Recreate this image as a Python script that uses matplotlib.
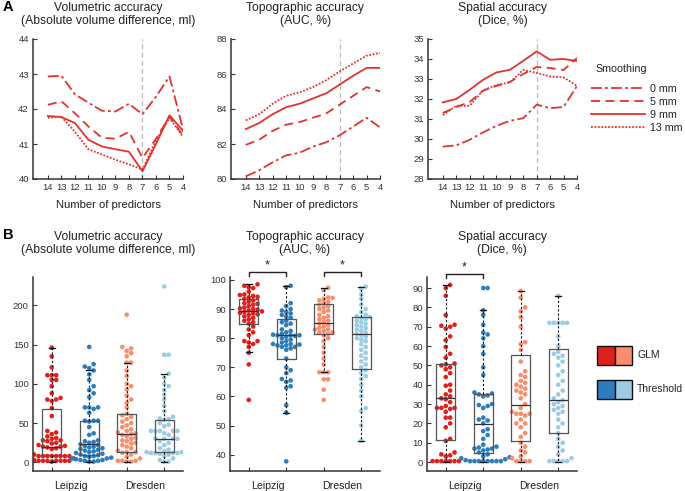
import numpy as np
import matplotlib
matplotlib.use("Agg")
import matplotlib.pyplot as plt
from matplotlib.patches import Rectangle

plt.rcParams['font.family'] = ['Liberation Sans', 'DejaVu Sans']

# ---------------- data: panel A ----------------
n_pred = [14, 13, 12, 11, 10, 9, 8, 7, 6, 5, 4]
smooth_labels = ["0 mm", "5 mm", "9 mm", "13 mm"]

vol_lines = [
    [42.93, 42.95, 42.42, 42.18, 41.95, 41.93, 42.15, 41.85, 42.35, 42.93, 41.42],
    [42.12, 42.22, 41.88, 41.5, 41.18, 41.15, 41.35, 40.6, 41.15, 41.78, 41.25],
    [41.8, 41.77, 41.6, 41.12, 40.93, 40.85, 40.78, 40.22, 41.0, 41.82, 41.38],
    [41.75, 41.78, 41.35, 40.85, 40.7, 40.55, 40.42, 40.27, 41.1, 41.75, 41.2],
]
topo_lines = [
    [80.15, 80.5, 80.95, 81.35, 81.5, 81.85, 82.1, 82.5, 83.0, 83.5, 82.95],
    [81.95, 82.25, 82.75, 83.1, 83.25, 83.5, 83.75, 84.25, 84.75, 85.25, 85.0],
    [82.85, 83.2, 83.7, 84.1, 84.3, 84.6, 84.9, 85.4, 85.9, 86.35, 86.35],
    [83.35, 83.7, 84.3, 84.75, 84.95, 85.25, 85.65, 86.15, 86.6, 87.05, 87.2],
]
spat_lines = [
    [29.62, 29.68, 29.96, 30.33, 30.66, 30.91, 31.04, 31.72, 31.54, 31.6, 32.65],
    [31.3, 31.6, 31.85, 32.42, 32.65, 32.85, 33.25, 33.6, 33.55, 33.45, 34.05],
    [31.83, 32.0, 32.46, 32.96, 33.33, 33.46, 33.91, 34.38, 33.96, 34.0, 33.9],
    [31.2, 31.66, 31.66, 32.43, 32.7, 32.83, 33.46, 33.3, 33.13, 33.08, 32.66],
]

# ---------------- data: panel B ----------------
groups = ["Leipzig", "Dresden"]
methods = ["GLM", "Threshold"]

vol_pts = [
    [146, 135, 121, 111, 111, 111, 105, 105, 97, 88, 82, 80, 80, 78, 69, 59, 40, 38, 36, 33,
     31, 30, 28, 28, 27, 25, 24, 22, 21, 20, 20, 19, 18, 17, 10, 8, 8, 8, 8, 8, 8, 8, 8, 8,
     5, 3, 2, 2, 2, 2, 2, 2, 2, 1],
    [147, 125, 122, 120, 117, 112, 105, 97, 92, 88, 83, 70, 70, 70, 68, 63, 53, 53, 53, 52,
     45, 37, 35, 28, 27, 26, 25, 23, 22, 21, 20, 19, 18, 17, 16, 15, 14, 13, 12, 11, 10, 9,
     8, 8, 7, 6, 5, 5, 4, 3, 3, 2, 2, 1, 1],
    [188, 147, 145, 142, 139, 135, 127, 127, 117, 110, 100, 97, 93, 85, 80, 76, 70, 62, 60,
     58, 55, 52, 50, 47, 45, 42, 40, 38, 37, 36, 35, 33, 31, 30, 28, 27, 25, 24, 22, 20, 18,
     15, 13, 13, 12, 10, 7, 5, 2, 2, 2, 1, 1],
    [224, 137, 137, 113, 108, 100, 97, 92, 86, 80, 72, 65, 58, 56, 55, 54, 50, 48, 46, 40,
     40, 40, 40, 40, 37, 35, 30, 30, 30, 30, 27, 25, 22, 18, 16, 15, 14, 13, 13, 12, 12, 12,
     12, 11, 10, 8, 5, 3, 1, 1],
]
topo_pts = [
    [98.5, 98, 97.5, 97.2, 96, 95, 94.8, 94.5, 94.2, 94, 93.5, 93, 92.5, 92, 91.8, 91.5, 91,
     90.5, 90.2, 90, 89.8, 89.5, 89.2, 89, 88.7, 88.5, 88.2, 88, 87.5, 87, 86.5, 86, 85.5,
     85, 84, 83, 82, 81, 79, 79, 78.5, 78, 77, 75, 71, 58.8],
    [98, 97.5, 92, 91, 90, 89.5, 89, 88.5, 88, 87.5, 87, 86, 85.5, 85, 84.5, 83, 82.5, 82,
     81.5, 81.2, 81, 81, 81, 80.8, 80.5, 80, 79.5, 79, 78.5, 78, 78, 77.8, 77.5, 77.5, 77,
     77, 76.5, 76, 73, 70, 69, 68, 66, 65.5, 65, 63.5, 63, 57, 54.4, 37.7],
    [97.3, 96.5, 94, 93.8, 93.5, 93, 92.5, 92, 91.5, 91, 90.5, 90, 89.5, 89, 88, 87.5, 87,
     86.5, 86, 85.5, 85, 84.5, 84, 83.5, 83, 83, 82.5, 82, 82, 81.5, 81, 80, 79, 77, 75, 73,
     71, 68.3, 68.3, 68.3, 65.9, 65.9, 62.3, 58.8],
    [97.7, 97, 95, 93.5, 91.5, 90, 89, 88, 87.5, 87.2, 87, 86.5, 86, 85.5, 85, 84.5, 84,
     83.5, 83, 82.5, 82, 81.5, 81, 80.5, 80, 79.5, 79, 78, 77, 76, 75, 74, 73, 72, 71, 70,
     69, 68, 67, 66, 64, 62, 60, 56, 55, 50, 44.8],
]
spat_pts = [
    [91.6, 90, 86, 76, 71, 70.5, 70, 69, 65, 63, 59.5, 56, 54, 51, 50.5, 50, 49, 48, 46, 44,
     40, 39.5, 37, 35, 34, 33, 32.5, 31, 29, 28, 28, 28, 27.5, 26, 23, 23, 20, 18, 12, 11, 5,
     4, 3.5, 3, 0.5, 0.5, 0.5, 0.5, 0.5, 0.5, 0.5],
    [90, 90, 78.5, 76, 71, 67, 66, 64, 60, 56, 49, 45, 36, 35.5, 35, 34.5, 34, 30, 29.5, 29,
     28, 23, 22, 21.5, 20, 17, 16, 14, 12, 9, 8, 7.5, 7, 7, 6.5, 6, 5, 4, 3, 2.5, 2, 1.5, 1,
     0.5, 0.5, 0.5, 0.5, 0.5, 0.5, 0.5, 0.5],
    [88.4, 85, 80, 78, 75, 70, 62, 61, 58, 52, 47, 45, 44, 42, 41, 40, 39, 38, 37, 36, 35,
     33, 30, 28, 26, 25, 25, 25, 24, 22, 20, 20, 18, 15, 13, 10, 8, 6, 5, 3, 2, 0.5, 0.5,
     0.5, 0.5],
    [86, 72, 72, 72, 72, 72, 65, 60, 57, 56, 55, 54, 52, 50, 47, 45, 42, 40, 37, 35, 33, 32,
     31, 30, 29, 28, 27, 26, 25, 22, 20, 18, 15, 12, 10, 8, 6, 4, 2, 0.5, 0.5, 0.5, 0.5,
     0.5],
]

# box stats: q1, median, q3, lower whisker, upper whisker
vol_box = [(9, 20, 68, 0, 145.5), (10, 24, 53, 0, 117), (13, 36, 62, 0, 127), (13, 30, 54.5, 0, 113)]
topo_box = [(85.0, 89.3, 93.4, 75.1, 98.5), (72.9, 81.0, 86.6, 54.4, 97.9),
            (81.5, 85.1, 91.6, 68.3, 97.3), (69.4, 81.5, 87.2, 44.8, 97.7)]
spat_box = [(11.4, 32.9, 50.5, 0, 91.6), (4.8, 19.7, 35.3, 0, 78.5),
            (10.7, 29.4, 55.4, 0, 88.4), (15.2, 32.3, 58.4, 0, 86)]

line_red = "#e5322d"
pt_colors = ["#e0201c", "#2b7dbf", "#fc8d6c", "#9ccbe3"]
ax_col = "#333333"
txt_col = "#222222"

fig = plt.figure(figsize=(6.85, 4.91), dpi=100)
W, H = 685.0, 491.0


def add_ax(l, t, r, b):
    return fig.add_axes([l / W, 1 - b / H, (r - l) / W, (b - t) / H])


def style(ax):
    for s in ["top", "right"]:
        ax.spines[s].set_visible(False)
    for s in ["left", "bottom"]:
        ax.spines[s].set_color(ax_col)
        ax.spines[s].set_linewidth(1.1)
    ax.tick_params(direction="in", length=3, width=0.8, colors=ax_col, labelsize=6.8,
                   labelcolor="#333333", pad=3)


# ---------------- panel A ----------------
styles = [(0, (6, 1.8, 1.5, 1.8)), (0, (5, 3)), "-", (0, (1, 0.9))]
top_specs = [
    (33, 183, vol_lines, (40, 44), 1, "Volumetric accuracy\n(Absolute volume difference, ml)"),
    (231, 380, topo_lines, (80, 88), 2, "Topographic accuracy\n(AUC, %)"),
    (428, 577, spat_lines, (28, 35), 1, "Spatial accuracy\n(Dice, %)"),
]
for l, r, lines, ylim, ystep, title in top_specs:
    ax = add_ax(l, 39, r, 179)
    style(ax)
    ax.axvline(7, color="#bbbbbb", lw=0.9, ls=(0, (4, 2.5)), zorder=1)
    for vals, ls, lab in zip(lines, styles, smooth_labels):
        ax.plot(n_pred, vals, color=line_red, lw=1.3, ls=ls, label=lab, zorder=3)
    ax.set_xlim(15.1, 4)
    ax.set_ylim(*ylim)
    ax.set_xticks(n_pred)
    ax.set_yticks(np.arange(ylim[0], ylim[1] + 0.5, ystep))
    ax.set_xlabel("Number of predictors", fontsize=8.1, color=txt_col, labelpad=6)
    ax.set_title(title, fontsize=8.7, color=txt_col, pad=10.5)
    last_top = ax

fig.text(595 / W, 1 - 69 / H, "Smoothing", fontsize=7.7, va="center", color=txt_col)
leg = last_top.legend(loc="upper left", bbox_to_anchor=(1.06, 0.716), frameon=False,
                      fontsize=7.7, handlelength=5.0, handletextpad=0.5, labelspacing=0.28,
                      borderpad=0)
for t in leg.get_texts():
    t.set_color(txt_col)


# ---------------- panel B ----------------
def swarm_offsets(vals, ppy, ppx, d=4.4):
    placed = []
    offs = np.zeros(len(vals))
    cands = [0.0]
    for j in range(1, 20):
        cands += [j * d, -j * d]
    for i in np.argsort(vals):
        y = vals[i] * ppy
        for c in cands:
            if all((c - px) ** 2 + (y - py) ** 2 >= (d * 0.9) ** 2 for px, py in placed):
                break
        placed.append((c, y))
        offs[i] = c / ppx
    return offs


bot_specs = [
    (33, 183, vol_pts, vol_box, (-11, 236), [0, 50, 100, 150, 200],
     "Volumetric accuracy\n(Absolute volume difference, ml)", [], None),
    (230, 380, topo_pts, topo_box, (34.4, 101), [40, 50, 60, 70, 80, 90, 100],
     "Topographic accuracy\n(AUC, %)", [(1, 2), (3, 4)], 102.6),
    (427, 577, spat_pts, spat_box, (-4.6, 95.7), list(range(0, 91, 10)),
     "Spatial accuracy\n(Dice, %)", [(1, 2)], 97.4),
]
positions = [1, 2, 3, 4]
for l, r, pts, boxes, ylim, yt, title, sig, sig_y in bot_specs:
    ax = add_ax(l, 277, r, 471)
    style(ax)
    ax.set_xlim(0.5, 4.5)
    ax.set_ylim(*ylim)
    ppy = 194.0 / (ylim[1] - ylim[0])
    ppx = 150.0 / 4.0
    for pos, vals, col in zip(positions, pts, pt_colors):
        vals = np.array(vals, dtype=float)
        xo = swarm_offsets(vals, ppy, ppx)
        ax.scatter(pos + xo, vals, s=11, color=col, edgecolors="none", zorder=2)
    stats = [dict(q1=q1, med=med, q3=q3, whislo=lo, whishi=hi, fliers=[])
             for q1, med, q3, lo, hi in boxes]
    ax.bxp(stats, positions=positions, widths=0.5, showfliers=False, capwidths=0.17,
           boxprops=dict(color="#555555", lw=0.9),
           medianprops=dict(color="#333333", lw=0.9),
           whiskerprops=dict(color="#111111", lw=0.8, ls=(0, (2, 1.8))),
           capprops=dict(color="#111111", lw=0.9), zorder=3)
    ax.set_xlim(0.5, 4.5)
    ax.set_xticks(positions)
    ax.set_xticklabels([])
    ax.set_xticks([1.5, 3.5], minor=True)
    ax.set_xticklabels(groups, minor=True, fontsize=7.6, color=txt_col)
    ax.tick_params(axis="x", which="minor", length=0, pad=7.5)
    ax.set_yticks(yt)
    ax.set_title(title, fontsize=8.7, color=txt_col, pad=17)
    span = ylim[1] - ylim[0]
    for a, b in sig:
        dy = span * 0.02
        ax.plot([a, a, b, b], [sig_y - dy, sig_y, sig_y, sig_y - dy], color=txt_col,
                lw=1.0, clip_on=False)
        ax.text((a + b) / 2, sig_y + span * 0.003, "*", ha="center", va="bottom",
                fontsize=9, color=txt_col)

# method legend
leg_cols = [(pt_colors[0], pt_colors[2]), (pt_colors[1], pt_colors[3])]
for row, (name, cols) in enumerate(zip(methods, leg_cols)):
    top = 346 + row * 34
    for k, c in enumerate(cols):
        fig.patches.append(Rectangle(((597 + k * 17.5) / W, 1 - (top + 19) / H), 17.5 / W, 19 / H,
                                     transform=fig.transFigure, facecolor=c,
                                     edgecolor="#111111", lw=1.0))
    fig.text(637 / W, 1 - (top + 9.5) / H, name, fontsize=7.5, va="center", color=txt_col)

fig.text(3 / W, 1 - 7 / H, "A", fontsize=10.5, fontweight="bold", va="center")
fig.text(3 / W, 1 - 235 / H, "B", fontsize=10.5, fontweight="bold", va="center")

fig.savefig("out.png", dpi=100)
